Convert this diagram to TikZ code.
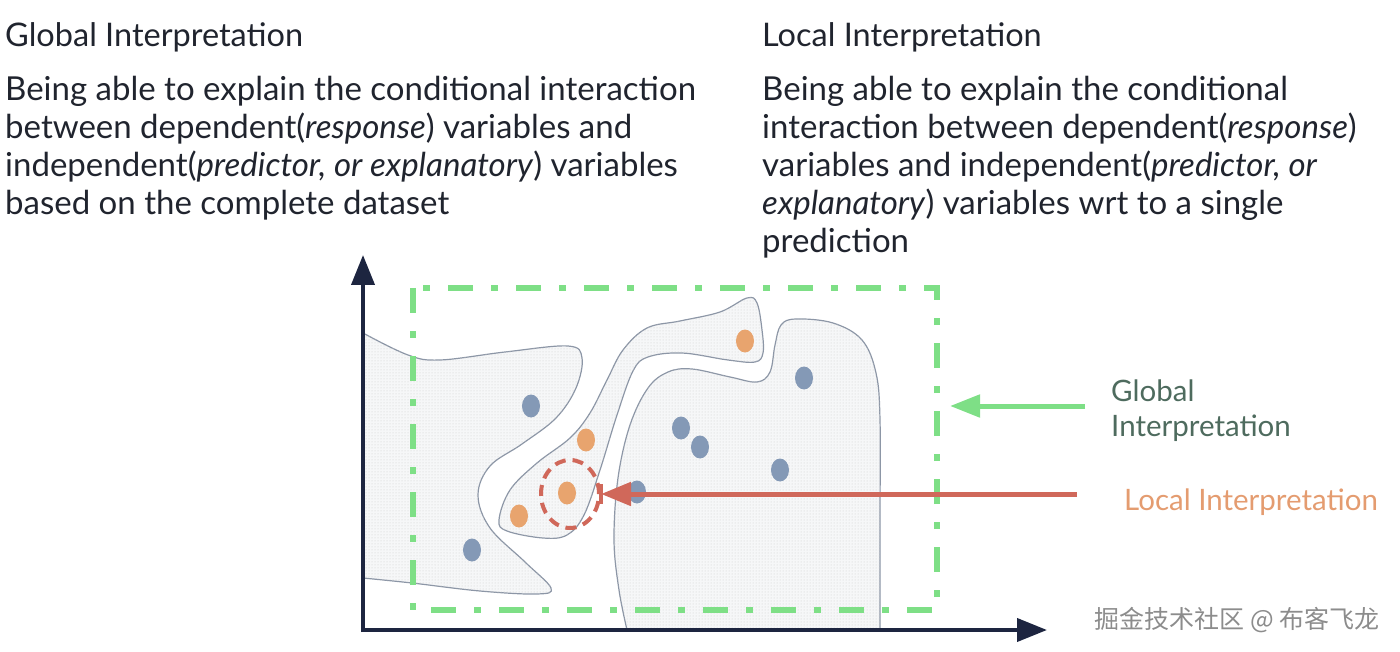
\documentclass[tikz,border=0pt]{standalone}
\usepackage{fontspec}
\setmainfont{Lato}
\newfontfamily\cjkfont{Noto Sans CJK SC}
\usetikzlibrary{arrows.meta,positioning,patterns,shapes.geometric}

\definecolor{inktext}{HTML}{20242E}
\definecolor{axisnavy}{HTML}{1D2540}
\definecolor{globalgreen}{HTML}{7EDF86}
\definecolor{globaltext}{HTML}{4E6B5E}
\definecolor{localred}{HTML}{D0685A}
\definecolor{localtext}{HTML}{E49C70}
\definecolor{dotblue}{HTML}{8499B6}
\definecolor{dotorange}{HTML}{E8A46E}
\definecolor{regionline}{HTML}{8C96A6}
\definecolor{regionfill}{HTML}{F6F7F8}

\begin{document}
\begin{tikzpicture}[x=1pt,y=-1pt,>=Latex,
  heading/.style={anchor=base west,inner sep=0pt,font=\fontsize{32.5}{38}\selectfont,text=inktext},
  body/.style={anchor=base west,inner sep=0pt,align=left,font=\fontsize{33}{38}\selectfont,text=inktext},
  region/.style={draw=regionline,line width=1.2pt,fill=regionfill,
    postaction={pattern=dots,pattern color=black!20}},
  bluedot/.style={ellipse,fill=dotblue,minimum width=18pt,minimum height=23pt,inner sep=0pt},
  orangedot/.style={ellipse,fill=dotorange,minimum width=18pt,minimum height=23pt,inner sep=0pt},
  axis/.style={draw=axisnavy,line width=4pt,-{Triangle[length=30pt,width=23pt]}},
  globalbox/.style={draw=globalgreen,line width=6pt,dash pattern=on 25pt off 18pt on 7pt off 18pt},
  globalarrow/.style={draw=globalgreen,line width=5pt,-{Triangle[length=30pt,width=22pt]}},
  localarrow/.style={draw=localred,line width=5pt,-{Triangle[length=30pt,width=23pt]}},
  localring/.style={ellipse,draw=localred,line width=4pt,dash pattern=on 11pt off 7pt,
    minimum width=58pt,minimum height=68pt,inner sep=0pt},
  sidelabel/.style={anchor=base west,inner sep=0pt,align=left,font=\fontsize{29.5}{35}\selectfont}]
  \useasboundingbox (0,0) rectangle (1400,652);

  % text blocks (base = last line)
  \node[heading] (gtitle) at (5,47) {Global Interpretation};
  \node[body] (gbody) at (5,215) {Being able to explain the conditional interaction\\
    between dependent(\textit{response}) variables and\\
    independent(\textit{predictor, or explanatory}) variables\\
    based on the complete dataset};
  \node[heading] (ltitle) at (762,47) {Local Interpretation};
  \node[body] (lbody) at (762,253) {Being able to explain the conditional\\
    interaction between dependent(\textit{response})\\
    variables and independent(\textit{predictor, or}\\
    \textit{explanatory}) variables wrt to a single\\
    prediction};

  % regions
  \draw[region] plot[smooth,tension=0.6] coordinates {(363,333) (408,355) (440,360) (505,352)
    (568,346) (582,358) (576,388) (556,418) (522,444) (490,466) (478,495) (490,528)
    (525,562) (551,588) (537,594) (480,591) (412,583) (363,578)} -- cycle;
  \draw[region] plot[smooth cycle,tension=0.6] coordinates {(499,520) (510,490) (537,463)
    (570,438) (590,413) (607,380) (623,350) (647,328) (680,321) (720,312) (747,298)
    (757,303) (762,330) (763,353) (755,362) (728,360) (682,353) (648,357) (633,371)
    (617,415) (600,470) (584,515) (567,535) (543,538) (507,531)};
  \draw[region] plot[smooth,tension=0.6] coordinates {(627,630) (619,590) (614,540)
    (618,478) (630,425) (648,388) (668,372) (692,369) (730,377) (757,382) (770,372)
    (775,345) (781,325) (796,319) (833,323) (862,340) (876,373) (880,420) (880,520)
    (880,630)} -- cycle;

  % points
  \node[bluedot] (b1) at (531,406) {};
  \node[bluedot] (b2) at (472,550) {};
  \node[bluedot] (b3) at (681,428) {};
  \node[bluedot] (b4) at (700,447) {};
  \node[bluedot] (b5) at (780,470) {};
  \node[bluedot] (b6) at (804,378) {};
  \node[bluedot] (b7) at (637,492) {};
  \node[orangedot] (o1) at (586,440) {};
  \node[orangedot] (o2) at (567,493) {};
  \node[orangedot] (o3) at (519,516) {};
  \node[orangedot] (o4) at (745,341) {};

  % global box and local ring
  \draw[globalbox] (413,288) rectangle (937,610);
  \node[localring] (ring) at (570,494) {};

  % axes
  \coordinate (origin) at (363,630);
  \coordinate (ytip) at (363,255);
  \coordinate (xtip) at (1047,630);
  \draw[axis] ([yshift=-2pt]origin) -- (ytip);
  \draw[axis] ([xshift=-2pt]origin) -- (xtip);

  % labels and pointers
  \node[sidelabel,text=globaltext] (glabel) at (1111,436) {Global\\Interpretation};
  \node[sidelabel,text=localtext] (llabel) at (1124,510) {Local Interpretation};
  \coordinate (gtail) at (1085,406);
  \coordinate (gtip) at (950,406);
  \draw[globalarrow] (gtail) -- (gtip);
  \coordinate (ltail) at (1077,494);
  \draw[localarrow] (ltail) -- (ring.east);
  \draw[draw=localred,line width=4pt] ([yshift=-10pt]ring.east) -- ([yshift=10pt]ring.east);

  \node[anchor=center,inner sep=0pt,text=black!45,font=\cjkfont\fontsize{25}{25}\selectfont]
    (mark) at (1237,620) {掘金技术社区 @ 布客飞龙};
\end{tikzpicture}
\end{document}
